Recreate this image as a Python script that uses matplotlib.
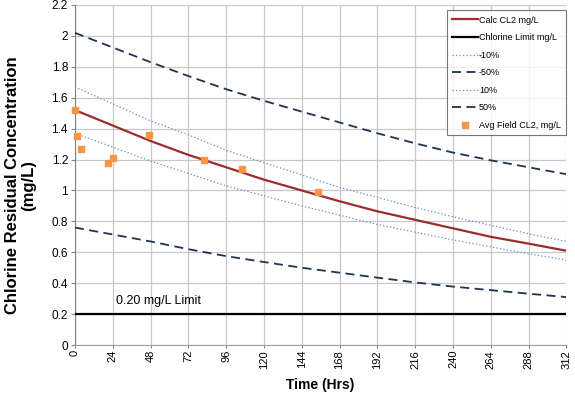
import numpy as np
import matplotlib.pyplot as plt

plt.rcParams['font.family'] = ['Liberation Sans', 'DejaVu Sans']

# time axis (hrs) for the model curves
t = [0, 24, 48, 72, 96, 120, 144, 168, 192, 216, 240, 264, 288, 312]

calc = [1.52, 1.42, 1.32, 1.23, 1.15, 1.07, 1.00, 0.93, 0.865, 0.81, 0.755, 0.70, 0.656, 0.61]
minus10 = [1.37, 1.28, 1.19, 1.11, 1.03, 0.965, 0.90, 0.84, 0.78, 0.73, 0.68, 0.635, 0.59, 0.55]
plus10 = [1.67, 1.56, 1.45, 1.36, 1.26, 1.18, 1.10, 1.02, 0.955, 0.89, 0.83, 0.775, 0.72, 0.67]
minus50 = [0.76, 0.715, 0.67, 0.62, 0.575, 0.537, 0.50, 0.468, 0.436, 0.405, 0.378, 0.355, 0.332, 0.31]
plus50 = [2.02, 1.925, 1.83, 1.74, 1.655, 1.58, 1.51, 1.44, 1.37, 1.305, 1.245, 1.195, 1.15, 1.105]

limit_t = [0, 312]
limit = [0.2, 0.2]

# field samples
field_t = [0, 1.5, 3.6, 21, 24.3, 46.9, 82, 106, 154.5]
field_cl2 = [1.52, 1.35, 1.27, 1.18, 1.21, 1.36, 1.20, 1.14, 0.99]

xticks = list(range(0, 313, 24))
yticks = [0, 0.2, 0.4, 0.6, 0.8, 1, 1.2, 1.4, 1.6, 1.8, 2, 2.2]
ylabels = ['0', '0.2', '0.4', '0.6', '0.8', '1', '1.2', '1.4', '1.6', '1.8', '2', '2.2']

fig = plt.figure(figsize=(5.75, 3.93), dpi=100)
ax = fig.add_axes([0.1304, 0.1221, 0.8546, 0.8652])

navy = '#1f3352'
dotblue = '#5b8fd0'

ax.plot(t, calc, color='#9b2d2a', lw=1.6, label='Calc CL2 mg/L', zorder=4)
ax.plot(limit_t, limit, color='black', lw=1.6, label='Chlorine Limit mg/L', zorder=4)
ax.plot(t, minus10, color=dotblue, lw=0.9, ls=(0, (1, 1.8)), label='-10%', zorder=3)
ax.plot(t, minus50, color=navy, lw=1.3, ls=(0, (5, 3)), label='-50%', zorder=3)
ax.plot(t, plus10, color=dotblue, lw=0.9, ls=(0, (1, 1.8)), label='10%', zorder=3)
ax.plot(t, plus50, color=navy, lw=1.3, ls=(0, (5, 3)), label='50%', zorder=3)
ax.plot(field_t, field_cl2, ls='none', marker='s', ms=5, color='#f79646',
        mec='#f79646', label='Avg Field CL2, mg/L', zorder=5, clip_on=False)

ax.text(26, 0.285, '0.20 mg/L Limit', fontsize=9, va='center', ha='left')

ax.set_xlim(0, 312)
ax.set_ylim(0, 2.2)
ax.set_xticks(xticks)
ax.set_xticklabels([str(v) for v in xticks], rotation=90, fontsize=8)
ax.set_yticks(yticks)
ax.set_yticklabels(ylabels, fontsize=8.5)
ax.tick_params(axis='y', length=3, color='#808080', width=0.8, pad=2)
ax.tick_params(axis='x', length=2, color='#808080', width=0.8, pad=1.5)

ax.grid(True, color='#c8c8c8', lw=0.9)
ax.set_axisbelow(True)
for s in ['top', 'right']:
    ax.spines[s].set_visible(False)
ax.spines['left'].set_color('#808080')
ax.spines['bottom'].set_color('#a0a0a0')

ax.set_xlabel('Time (Hrs)', fontsize=10, fontweight='bold', labelpad=7)
ax.set_ylabel('Chlorine Residual Concentration\n(mg/L)', fontsize=12,
              fontweight='bold', linespacing=1.05)
ax.yaxis.set_label_coords(-0.08, 0.47)

leg = ax.legend(loc='upper right', bbox_to_anchor=(1.0, 0.985), fontsize=6.5,
                frameon=True, fancybox=False, edgecolor='#555555',
                handlelength=2.9, labelspacing=0.95, borderpad=0.6,
                handletextpad=0.1, borderaxespad=0)
leg.get_frame().set_linewidth(0.8)

fig.savefig('out.png', dpi=100)
